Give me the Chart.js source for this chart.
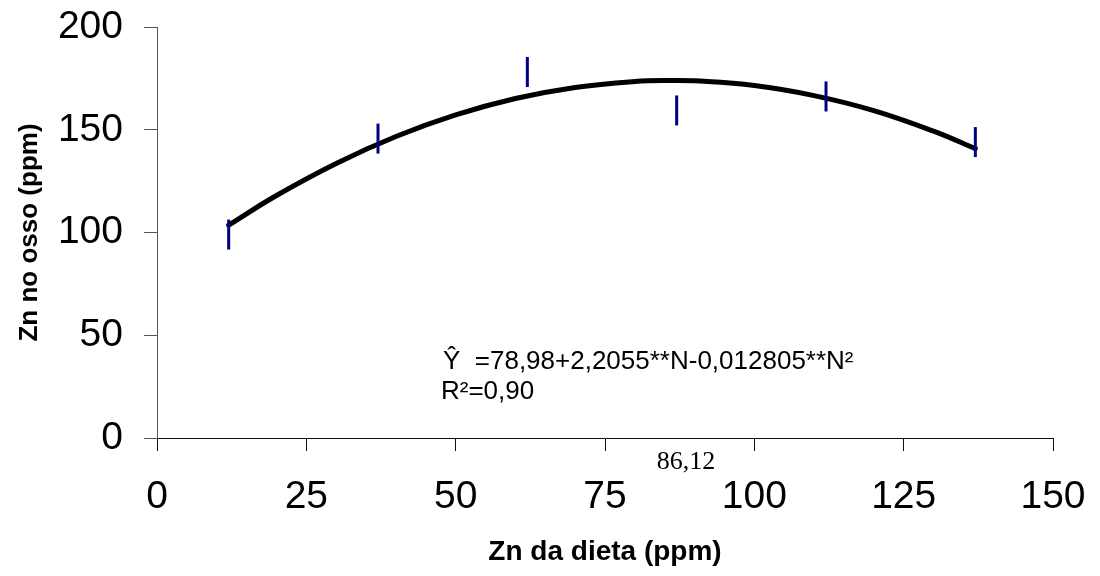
<!DOCTYPE html>
<html><head><meta charset="utf-8">
<script src="https://cdn.jsdelivr.net/npm/chart.js@4"></script>
<style>html,body{margin:0;padding:0;background:#fff}#wrap{width:1100px;height:576px}</style>
</head><body><div id="wrap"><canvas id="c" width="1100" height="576"></canvas></div>
<script>
// ---- data ----
const doseX = [12, 37, 62, 87, 112, 137];
const boneZn = [99.0, 145.7, 178.1, 159.4, 166.2, 144.0];
const fitX = [12, 20, 30, 40, 50, 60, 70, 80, 86, 90, 100, 110, 120, 130, 137];
const fitY = [103.6, 118.0, 133.6, 146.7, 157.2, 165.2, 170.6, 173.5, 174.0, 173.8, 171.5, 166.6, 159.3, 149.3, 140.8];
const xTicks = [0, 25, 50, 75, 100, 125, 150];
const yTicks = [0, 50, 100, 150, 200];
const xTitle = 'Zn da dieta (ppm)';
const yTitle = 'Zn no osso (ppm)';
const equationText = 'Ŷ  =78,98+2,2055**N-0,012805**N²';
const r2Text = 'R²=0,90';
const optimumLabel = '86,12';

const SANS = '"Liberation Sans", Arial, sans-serif';
const SERIF = '"Liberation Serif", "Times New Roman", serif';

const annotations = {
  id: 'annotations',
  afterDraw(chart) {
    const ctx = chart.ctx;
    ctx.save();
    ctx.fillStyle = '#000';
    ctx.textBaseline = 'alphabetic';
    ctx.textAlign = 'left';
    ctx.font = '26px ' + SANS;
    ctx.fillText(equationText, 443, 369);
    ctx.fillText(r2Text, 441, 399);
    ctx.font = '26px ' + SERIF;
    ctx.textAlign = 'center';
    ctx.fillText(optimumLabel, 686, 469);
    ctx.restore();
  }
};

new Chart(document.getElementById('c'), {
  type: 'scatter',
  data: {
    datasets: [
      {
        type: 'line',
        data: fitX.map((x, i) => ({x, y: fitY[i]})),
        borderColor: '#000',
        borderWidth: 5,
        borderCapStyle: 'round',
        tension: 0.4,
        pointRadius: 0,
        fill: false,
        order: 2
      },
      {
        data: doseX.map((x, i) => ({x, y: boneZn[i]})),
        pointStyle: 'line',
        rotation: 90,
        pointRadius: 15,
        pointBorderWidth: 3,
        borderColor: '#000080',
        backgroundColor: '#000080',
        order: 1
      }
    ]
  },
  options: {
    responsive: false,
    animation: false,
    devicePixelRatio: 1,
    layout: {padding: {top: 27, right: 47, left: 0, bottom: 0}},
    plugins: {legend: {display: false}, tooltip: {enabled: false}},
    scales: {
      x: {
        type: 'linear', min: 0, max: 150,
        afterBuildTicks: s => { s.ticks = xTicks.map(v => ({value: v})); },
        afterFit: s => { s.height = 138; s.paddingLeft = 0; s.paddingRight = 0; },
        border: {color: '#111', width: 1},
        grid: {drawOnChartArea: false, drawTicks: true, tickLength: 13, tickColor: '#111'},
        ticks: {color: '#000', font: {family: SANS, size: 39}, padding: 23, maxRotation: 0},
        title: {display: true, text: xTitle, color: '#000', font: {family: SANS, size: 28, weight: 'bold'}, padding: {top: 0, bottom: 7}}
      },
      y: {
        type: 'linear', min: 0, max: 200,
        afterBuildTicks: s => { s.ticks = yTicks.map(v => ({value: v})); },
        afterFit: s => { s.width = 157; s.paddingTop = 0; s.paddingBottom = 0; },
        border: {color: '#555', width: 1},
        grid: {drawOnChartArea: false, drawTicks: true, tickLength: 13, tickColor: '#555'},
        ticks: {color: '#000', font: {family: SANS, size: 39}, padding: 21},
        title: {display: true, text: yTitle, color: '#000', font: {family: SANS, size: 26, weight: 'bold'}, padding: {top: 14, bottom: 0}}
      }
    }
  },
  plugins: [annotations]
});
</script>
</body></html>
